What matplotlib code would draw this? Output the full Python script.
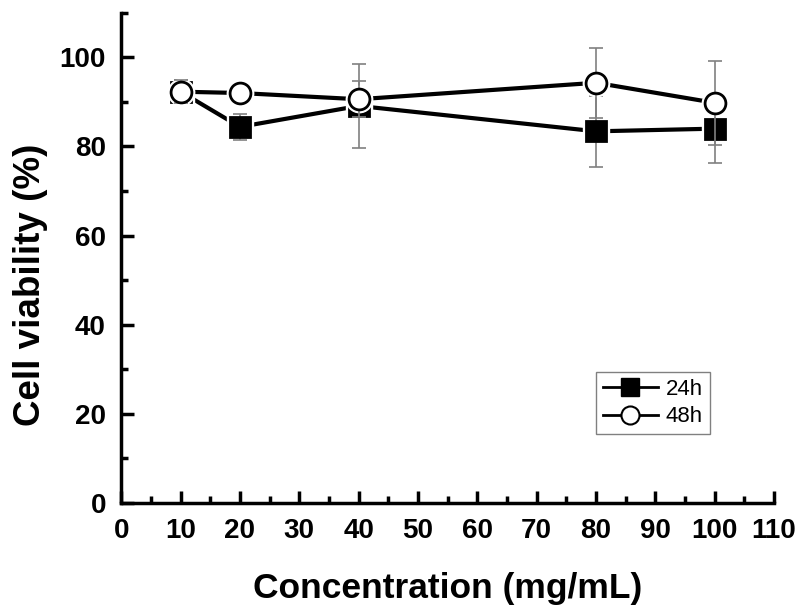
import matplotlib.pyplot as plt
from matplotlib.ticker import MultipleLocator

plt.rcParams['font.family'] = ['Liberation Sans', 'DejaVu Sans']

conc = [10, 20, 40, 80, 100]
v24 = [92.3, 84.4, 89.1, 83.4, 84.0]
e24 = [2.6, 2.9, 9.5, 8.0, 7.8]
v48 = [92.3, 92.0, 90.6, 94.3, 89.8]
e48 = [2.6, 1.0, 4.0, 7.9, 9.4]

fig = plt.figure(figsize=(8.03, 6.11), dpi=100)
ax = fig.add_axes([0.151, 0.177, 0.813, 0.802])

series = [
    (v24, e24, 's', 'black', '24h'),
    (v48, e48, 'o', 'white', '48h'),
]
for i, (v, e, m, fc, lab) in enumerate(series):
    z = 2 + i * 4
    ax.plot(conc, v, color='black', lw=3, zorder=z)
    ax.plot(conc, v, ls='none', marker=m, ms=19, mfc='white', mec='white', zorder=z + 1)
    ax.errorbar(conc, v, yerr=e, fmt='none', ecolor='#808080', elinewidth=1.2,
                capsize=5, capthick=1.2, zorder=z + 2)
    ax.plot(conc, v, ls='none', marker=m, ms=15, mfc=fc, mec='black', mew=2,
            zorder=z + 3)

ax.set_xlim(0, 110)
ax.set_ylim(0, 110)
ax.xaxis.set_major_locator(MultipleLocator(10))
ax.xaxis.set_minor_locator(MultipleLocator(5))
ax.yaxis.set_major_locator(MultipleLocator(20))
ax.yaxis.set_minor_locator(MultipleLocator(10))
ax.tick_params(which='both', direction='in', width=2.5, labelsize=20)
ax.tick_params(which='major', length=9)
ax.tick_params(which='minor', length=5)
ax.tick_params(axis='x', which='major', pad=11)
ax.tick_params(axis='y', which='major', pad=11)
for t in ax.get_xticklabels() + ax.get_yticklabels():
    t.set_fontweight('bold')
for s in ['top', 'right']:
    ax.spines[s].set_visible(False)
for s in ['left', 'bottom']:
    ax.spines[s].set_linewidth(2.5)

ax.set_xlabel('Concentration (mg/mL)', fontsize=25.5, fontweight='heavy', labelpad=20)
ax.set_ylabel('Cell viability (%)', fontsize=26.5, fontweight='heavy', labelpad=8)
ax.yaxis.label.set_y(0.445)

h24 = plt.Line2D([], [], color='black', lw=2, marker='s', ms=13, mfc='black', mec='black')
h48 = plt.Line2D([], [], color='black', lw=2, marker='o', ms=13, mfc='white', mec='black', mew=1.5)
leg = ax.legend([h24, h48], ['24h', '48h'], loc='upper left',
                bbox_to_anchor=(0.727, 0.267), fontsize=16, frameon=True,
                fancybox=False, edgecolor='#606060', handlelength=2.5,
                handletextpad=0.35, borderpad=0.3, labelspacing=0.3,
                borderaxespad=0)
leg.get_frame().set_linewidth(1)

fig.savefig('out.png', dpi=100)
